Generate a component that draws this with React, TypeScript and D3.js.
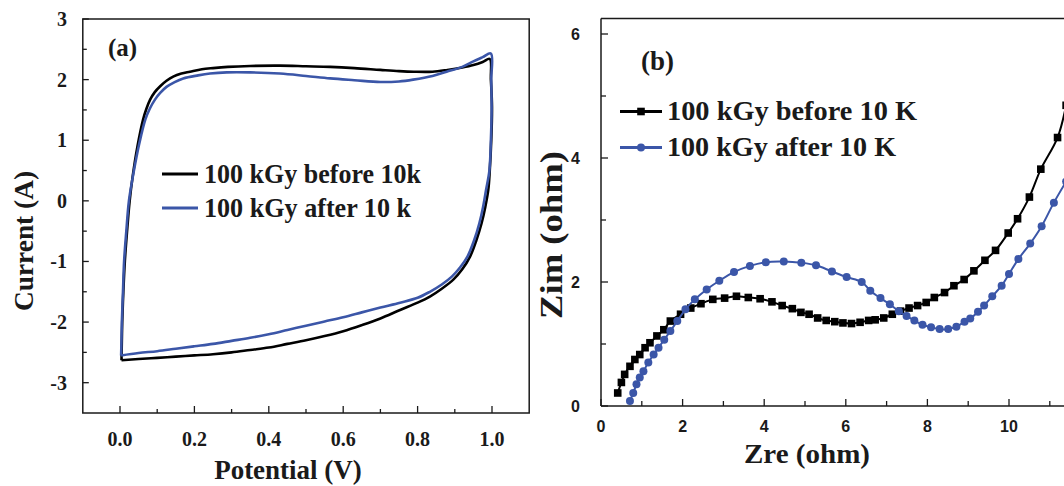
import React from 'react';
import * as d3 from 'd3';

// Panel (a): cyclic voltammetry, [potential V, current A], traced as one closed loop
const cvBefore: [number, number][] = [
  [0.004, -2.63], [0.005, -2.3], [0.006, -2.0], [0.009, -1.5], [0.013, -1.0], [0.019, -0.5],
  [0.026, 0.0], [0.034, 0.4], [0.047, 0.9], [0.062, 1.34], [0.071, 1.52],
  [0.081, 1.67], [0.093, 1.79], [0.108, 1.89], [0.125, 1.98], [0.143, 2.05], [0.165, 2.1],
  [0.188, 2.13], [0.22, 2.17], [0.25, 2.19], [0.29, 2.21], [0.35, 2.225], [0.43, 2.23],
  [0.5, 2.22], [0.565, 2.21], [0.63, 2.19], [0.7, 2.16], [0.75, 2.14], [0.79, 2.13],
  [0.84, 2.13], [0.88, 2.16], [0.92, 2.2], [0.95, 2.24], [0.975, 2.29], [0.994, 2.34],
  [0.997, 2.0], [1.0, 1.55], [0.998, 1.0], [0.994, 0.5], [0.99, 0.18], [0.982, -0.1],
  [0.972, -0.37], [0.958, -0.65], [0.941, -0.92], [0.92, -1.13], [0.896, -1.3], [0.865, -1.45],
  [0.833, -1.58], [0.8, -1.68], [0.753, -1.8], [0.7, -1.94], [0.65, -2.05], [0.6, -2.15],
  [0.55, -2.23], [0.5, -2.3], [0.45, -2.36], [0.4, -2.42], [0.35, -2.46], [0.3, -2.5],
  [0.25, -2.53], [0.2, -2.55], [0.15, -2.57], [0.1, -2.59], [0.05, -2.61], [0.004, -2.63],
];

const cvAfter: [number, number][] = [
  [0.003, -2.55], [0.004, -2.3], [0.005, -2.0], [0.008, -1.5], [0.011, -1.0], [0.017, -0.5],
  [0.024, 0.0], [0.036, 0.45], [0.052, 0.95], [0.068, 1.34], [0.08, 1.52], [0.094, 1.67],
  [0.108, 1.78], [0.125, 1.88], [0.147, 1.96], [0.17, 2.02], [0.21, 2.07], [0.242, 2.1],
  [0.287, 2.12], [0.35, 2.12], [0.43, 2.1],
  [0.5, 2.06], [0.565, 2.02], [0.63, 1.99], [0.7, 1.96], [0.75, 1.97], [0.788, 2.0],
  [0.84, 2.06], [0.878, 2.13], [0.92, 2.21], [0.95, 2.3], [0.975, 2.37], [0.997, 2.43],
  [0.998, 2.0], [0.999, 1.5], [0.997, 1.0], [0.993, 0.5], [0.984, 0.18], [0.976, -0.1],
  [0.966, -0.37], [0.952, -0.65], [0.934, -0.92], [0.914, -1.1], [0.892, -1.25], [0.865, -1.38],
  [0.833, -1.5], [0.8, -1.6], [0.753, -1.68], [0.7, -1.76], [0.65, -1.84], [0.6, -1.92],
  [0.55, -1.99], [0.5, -2.06], [0.45, -2.13], [0.4, -2.2], [0.35, -2.26], [0.3, -2.31],
  [0.25, -2.36], [0.2, -2.4], [0.15, -2.44], [0.1, -2.48], [0.05, -2.51], [0.003, -2.55],
];

// Panel (b): Nyquist plot, [Zre ohm, Zim ohm]
const eisBefore: [number, number][] = [
  [0.41, 0.21], [0.5, 0.38], [0.58, 0.51], [0.71, 0.64], [0.83, 0.75], [0.95, 0.83],
  [1.08, 0.94], [1.2, 1.02], [1.37, 1.13], [1.54, 1.23], [1.7, 1.37], [1.95, 1.48],
  [2.2, 1.58], [2.45, 1.65], [2.74, 1.72], [3.03, 1.74], [3.32, 1.77], [3.61, 1.75],
  [3.9, 1.73], [4.19, 1.68], [4.44, 1.62], [4.69, 1.57], [4.9, 1.51], [5.1, 1.48],
  [5.31, 1.42], [5.52, 1.38], [5.73, 1.36], [5.93, 1.34], [6.14, 1.33], [6.35, 1.35],
  [6.56, 1.38], [6.72, 1.39], [6.93, 1.42], [7.14, 1.48], [7.34, 1.53], [7.55, 1.58],
  [7.76, 1.62], [7.97, 1.67], [8.17, 1.75], [8.42, 1.83], [8.65, 1.94], [8.9, 2.04],
  [9.14, 2.18], [9.41, 2.35], [9.67, 2.51], [9.98, 2.79], [10.21, 3.02], [10.5, 3.37],
  [10.78, 3.82], [11.19, 4.33], [11.4, 4.85],
];

const eisAfter: [number, number][] = [
  [0.71, 0.08], [0.79, 0.21], [0.87, 0.35], [0.95, 0.46], [1.04, 0.56], [1.16, 0.7],
  [1.29, 0.83], [1.41, 0.94], [1.55, 1.07], [1.7, 1.21], [1.87, 1.37], [2.07, 1.56],
  [2.3, 1.72], [2.59, 1.88], [2.9, 2.02], [3.26, 2.16], [3.65, 2.26], [4.04, 2.32],
  [4.48, 2.33], [4.91, 2.31], [5.27, 2.27], [5.66, 2.17], [6.02, 2.08], [6.39, 2.0],
  [6.6, 1.86], [6.85, 1.74], [7.08, 1.64], [7.3, 1.53], [7.49, 1.45], [7.68, 1.38],
  [7.88, 1.31], [8.09, 1.27], [8.3, 1.24], [8.51, 1.24], [8.71, 1.28], [8.91, 1.36],
  [9.05, 1.41], [9.24, 1.52], [9.39, 1.62], [9.59, 1.77], [9.82, 1.94], [10.0, 2.13],
  [10.23, 2.37], [10.52, 2.62], [10.8, 2.9], [11.1, 3.28], [11.4, 3.62],
];

const cvXTicks = [0, 0.2, 0.4, 0.6, 0.8, 1.0];
const cvXMinor = [0.1, 0.3, 0.5, 0.7, 0.9];
const cvYTicks = [3, 2, 1, 0, -1, -2, -3];
const cvYMinor = [2.5, 1.5, 0.5, -0.5, -1.5, -2.5];
const eisXTicks = [0, 2, 4, 6, 8, 10];
const eisXMinor = [1, 3, 5, 7, 9, 11];
const eisYTicks = [0, 2, 4, 6];
const eisYMinor = [1, 3, 5];

const legendA = ['100 kGy before 10k', '100 kGy after 10 k'];
const legendAWidths = [217, 207];
const legendB = ['100 kGy before 10 K', '100 kGy after 10 K'];
const legendBWidths = [250, 229];

const BLUE = '#3b56a8';
const INK = '#1a1a1a';
const SERIF = "'Liberation Serif','Times New Roman',serif";
const SANS = "'Liberation Sans',Arial,sans-serif";

export default function App() {
  // panel (a)
  const ax = d3.scaleLinear().domain([-0.1, 1.1]).range([82.8, 529.2]);
  const ay = d3.scaleLinear().domain([-3.5, 3]).range([413, 19]);
  // panel (b)
  const bx = d3.scaleLinear().domain([0, 12]).range([601, 1090.6]);
  const by = d3.scaleLinear().domain([0, 6.25]).range([406, 18.5]);

  const cvLine = d3
    .line<[number, number]>()
    .x((d) => ax(d[0]))
    .y((d) => ay(d[1]))
    .curve(d3.curveCatmullRom.alpha(0.5));
  const eisLine = d3
    .line<[number, number]>()
    .x((d) => bx(d[0]))
    .y((d) => by(d[1]))
    .curve(d3.curveCatmullRom.alpha(0.5));

  const [ax0, ax1] = ax.range();
  const [ay0, ay1] = ay.range();
  const [bx0, bx1] = bx.range();
  const [by0, by1] = by.range();

  return (
    <svg
      width={1064}
      height={486}
      style={{ position: 'absolute', left: 0, top: 0, background: '#fff' }}
    >
      <defs>
        <clipPath id="clipB">
          <rect x={bx0} y={by1} width={bx1 - bx0} height={by0 - by1} />
        </clipPath>
      </defs>
      <rect width={1064} height={486} fill="#fff" />

      {/* ---------- Panel (a) ---------- */}
      <path d={cvLine(cvBefore) || ''} fill="none" stroke="#000" strokeWidth={2.6} strokeLinejoin="round" />
      <path d={cvLine(cvAfter) || ''} fill="none" stroke={BLUE} strokeWidth={2.6} strokeLinejoin="round" />

      <rect x={ax0} y={ay1} width={ax1 - ax0} height={ay0 - ay1} fill="none" stroke={INK} strokeWidth={1.5} />
      {cvXTicks.map((t) => (
        <g key={'axt' + t}>
          <line x1={ax(t)} x2={ax(t)} y1={ay0} y2={ay0 - 7} stroke={INK} strokeWidth={1.3} />
          <text x={ax(t)} y={446} textAnchor="middle" fontFamily={SERIF} fontWeight="bold" fontSize={20} fill={INK}>
            {d3.format('.1f')(t)}
          </text>
        </g>
      ))}
      {cvXMinor.map((t) => (
        <line key={'axm' + t} x1={ax(t)} x2={ax(t)} y1={ay0} y2={ay0 - 4} stroke={INK} strokeWidth={1.3} />
      ))}
      {cvYTicks.map((t) => (
        <g key={'ayt' + t}>
          <line x1={ax0} x2={ax0 + 6} y1={ay(t)} y2={ay(t)} stroke={INK} strokeWidth={1.3} />
          <text x={67} y={ay(t)} dy="0.35em" textAnchor="end" fontFamily={SERIF} fontWeight="bold" fontSize={20} fill={INK}>
            {String(t)}
          </text>
        </g>
      ))}
      {cvYMinor.map((t) => (
        <line key={'aym' + t} x1={ax0} x2={ax0 + 4} y1={ay(t)} y2={ay(t)} stroke={INK} strokeWidth={1.3} />
      ))}
      <text x={288} y={479} textAnchor="middle" fontFamily={SERIF} fontWeight="bold" fontSize={27} fill={INK}>
        Potential (V)
      </text>
      <text
        transform="translate(33,241) rotate(-90)"
        textAnchor="middle"
        fontFamily={SERIF}
        fontWeight="bold"
        fontSize={28}
        textLength={140}
        lengthAdjust="spacingAndGlyphs"
        fill={INK}
      >
        Current (A)
      </text>
      <text x={108} y={56} fontFamily={SERIF} fontWeight="bold" fontSize={25} fill={INK}>
        (a)
      </text>
      {legendA.map((label, i) => (
        <g key={'la' + i}>
          <line x1={162} x2={198} y1={174 + i * 34} y2={174 + i * 34} stroke={i === 0 ? '#000' : BLUE} strokeWidth={3} />
          <text
            x={204}
            y={182.5 + i * 34}
            fontFamily={SERIF}
            fontWeight="bold"
            fontSize={27}
            textLength={legendAWidths[i]}
            lengthAdjust="spacingAndGlyphs"
            fill={INK}
          >
            {label}
          </text>
        </g>
      ))}

      {/* ---------- Panel (b) ---------- */}
      <g clipPath="url(#clipB)">
        <path d={eisLine(eisBefore) || ''} fill="none" stroke="#000" strokeWidth={2} />
        {eisBefore.map((d, i) => (
          <rect key={'sb' + i} x={bx(d[0]) - 3.8} y={by(d[1]) - 3.8} width={7.6} height={7.6} fill="#000" />
        ))}
        <path d={eisLine(eisAfter) || ''} fill="none" stroke={BLUE} strokeWidth={2} />
        {eisAfter.map((d, i) => (
          <circle key={'ca' + i} cx={bx(d[0])} cy={by(d[1])} r={4} fill={BLUE} />
        ))}
      </g>

      <line x1={bx0} x2={bx0} y1={by0} y2={by1} stroke={INK} strokeWidth={1.5} />
      <line x1={bx0} x2={bx1} y1={by0} y2={by0} stroke={INK} strokeWidth={1.5} />
      <line x1={bx0} x2={bx1} y1={by1} y2={by1} stroke={INK} strokeWidth={1.5} />
      {eisXTicks.map((t) => (
        <g key={'bxt' + t}>
          <line x1={bx(t)} x2={bx(t)} y1={by0} y2={by0 - 7} stroke={INK} strokeWidth={1.3} />
          <text x={bx(t)} y={432} textAnchor="middle" fontFamily={SANS} fontWeight="bold" fontSize={16} fill={INK}>
            {String(t)}
          </text>
        </g>
      ))}
      {eisXMinor.map((t) => (
        <line key={'bxm' + t} x1={bx(t)} x2={bx(t)} y1={by0} y2={by0 - 5} stroke={INK} strokeWidth={1.3} />
      ))}
      {eisYTicks.map((t) => (
        <g key={'byt' + t}>
          <line x1={bx0} x2={bx0 + 7} y1={by(t)} y2={by(t)} stroke={INK} strokeWidth={1.3} />
          <text x={580} y={by(t)} dy="0.36em" textAnchor="end" fontFamily={SANS} fontWeight="bold" fontSize={16} fill={INK}>
            {String(t)}
          </text>
        </g>
      ))}
      {eisYMinor.map((t) => (
        <line key={'bym' + t} x1={bx0} x2={bx0 + 5} y1={by(t)} y2={by(t)} stroke={INK} strokeWidth={1.3} />
      ))}
      <text x={807} y={463} textAnchor="middle" fontFamily={SERIF} fontWeight="bold" fontSize={28} textLength={126} lengthAdjust="spacingAndGlyphs" fill={INK}>
        Zre (ohm)
      </text>
      <text
        transform="translate(562,235) rotate(-90)"
        textAnchor="middle"
        fontFamily={SERIF}
        fontWeight="bold"
        fontSize={32}
        textLength={168}
        lengthAdjust="spacingAndGlyphs"
        fill={INK}
      >
        Zim (ohm)
      </text>
      <text x={641} y={70} fontFamily={SERIF} fontWeight="bold" fontSize={27} fill={INK}>
        (b)
      </text>
      {legendB.map((label, i) => {
        const y = 111.5 + i * 36;
        const color = i === 0 ? '#000' : BLUE;
        return (
          <g key={'lb' + i}>
            <line x1={620} x2={662} y1={y} y2={y} stroke={color} strokeWidth={3} />
            {i === 0 ? (
              <rect x={641 - 3.8} y={y - 3.8} width={7.6} height={7.6} fill={color} />
            ) : (
              <circle cx={641} cy={y} r={4} fill={color} />
            )}
            <text
              x={667}
              y={y + 8}
              fontFamily={SERIF}
              fontWeight="bold"
              fontSize={28}
              textLength={legendBWidths[i]}
              lengthAdjust="spacingAndGlyphs"
              fill={INK}
            >
              {label}
            </text>
          </g>
        );
      })}
    </svg>
  );
}
